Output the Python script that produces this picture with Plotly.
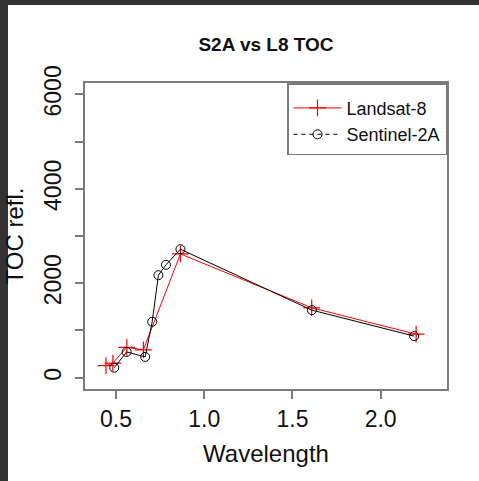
import plotly.graph_objects as go

# Data
l8_wavelength = [0.443, 0.482, 0.561, 0.655, 0.865, 1.609, 2.201]
l8_toc = [255, 310, 640, 590, 2620, 1480, 920]
s2_wavelength = [0.490, 0.560, 0.665, 0.705, 0.740, 0.783, 0.865, 1.610, 2.190]
s2_toc = [210, 545, 440, 1185, 2170, 2390, 2720, 1430, 880]

x_ticks = [0.5, 1.0, 1.5, 2.0]
x_ticktext = ["0.5", "1.0", "1.5", "2.0"]
y_ticks = [0, 1000, 2000, 3000, 4000, 5000, 6000]
y_ticktext = ["0", "", "2000", "", "4000", "", "6000"]

W, H = 479, 481
ML, MR, MT, MB = 85, 32, 83, 92
PW, PH = W - ML - MR, H - MT - MB

FONT = "Liberation Sans, Arial, sans-serif"
BOX = "#7a7a7a"

fig = go.Figure()

# plotted series (legend drawn by separate entries below)
fig.add_trace(go.Scatter(
    x=l8_wavelength, y=l8_toc, mode="lines+markers", showlegend=False,
    line=dict(color="#ff0000", width=1),
    marker=dict(symbol="cross-thin-open", size=12, color="#ff0000",
                line=dict(color="#ff0000", width=1.2)),
))
fig.add_trace(go.Scatter(
    x=s2_wavelength, y=s2_toc, mode="lines+markers", showlegend=False,
    line=dict(color="#000000", width=1),
    marker=dict(symbol="circle-open", size=9, color="#000000",
                line=dict(color="#000000", width=1)),
))
# legend entries
fig.add_trace(go.Scatter(
    x=[None], y=[None], mode="lines+markers", name="Landsat-8",
    line=dict(color="#ff0000", width=1),
    marker=dict(symbol="cross-thin-open", size=12, color="#ff0000",
                line=dict(color="#ff0000", width=1.2)),
))
fig.add_trace(go.Scatter(
    x=[None], y=[None], mode="lines+markers", name="Sentinel-2A",
    line=dict(color="#000000", width=1, dash="4px,4px"),
    marker=dict(symbol="circle-open", size=9, color="#000000",
                line=dict(color="#000000", width=1)),
))

axis_common = dict(
    showline=True, mirror=True, linecolor=BOX, linewidth=1.5,
    ticks="outside", ticklen=8, tickwidth=1.5, tickcolor=BOX,
    showgrid=False, zeroline=False,
    tickfont=dict(family=FONT, size=23, color="#111111"),
    title_font=dict(family=FONT, size=24, color="#111111"),
)

fig.update_xaxes(
    range=[0.324, 2.376], tickvals=x_ticks, ticktext=x_ticktext,
    ticklabelstandoff=1,
    title_text="Wavelength", title_standoff=14, **axis_common,
)
fig.update_yaxes(
    range=[-240, 6240], tickvals=y_ticks, ticktext=y_ticktext,
    tickangle=-90, ticklabelstandoff=5,
    title_text="TOC refl.", title_standoff=10, **axis_common,
)

# dark screenshot border (left and top)
fig.add_shape(type="rect", xref="paper", yref="paper",
              x0=-ML / PW - 0.01, x1=(8 - ML) / PW, y0=-MB / PH - 0.01, y1=(H - MB) / PH + 0.01,
              fillcolor="#333333", line=dict(width=0), layer="above")
fig.add_shape(type="rect", xref="paper", yref="paper",
              x0=-ML / PW - 0.01, x1=(W - ML) / PW + 0.01, y0=(H - MB - 5) / PH, y1=(H - MB) / PH + 0.01,
              fillcolor="#333333", line=dict(width=0), layer="above")

fig.update_layout(
    width=W, height=H,
    margin=dict(l=ML, r=MR, t=MT, b=MB),
    paper_bgcolor="white", plot_bgcolor="white",
    title=dict(text="<b>S2A vs L8 TOC</b>", x=0.5, xref="paper",
               y=1 - 44 / H, yref="container", yanchor="middle",
               font=dict(family=FONT, size=19, color="#111111")),
    legend=dict(x=1, y=1, xanchor="right", yanchor="top",
                bgcolor="white", bordercolor=BOX, borderwidth=1.5,
                font=dict(family=FONT, size=18, color="#111111"),
                title=dict(text=" ", font=dict(size=4)),
                itemwidth=48, tracegroupgap=0),
    showlegend=True,
)

fig.write_html(
    "out.html",
    config={"displayModeBar": False},
    post_script="document.body.style.margin='0';document.body.style.overflow='hidden';",
)
